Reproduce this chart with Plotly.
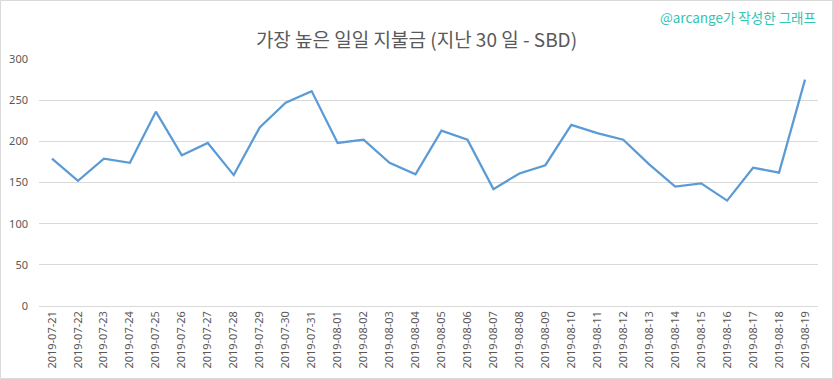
import plotly.graph_objects as go

dates = ["2019-07-21","2019-07-22","2019-07-23","2019-07-24","2019-07-25","2019-07-26",
         "2019-07-27","2019-07-28","2019-07-29","2019-07-30","2019-07-31","2019-08-01",
         "2019-08-02","2019-08-03","2019-08-04","2019-08-05","2019-08-06","2019-08-07",
         "2019-08-08","2019-08-09","2019-08-10","2019-08-11","2019-08-12","2019-08-13",
         "2019-08-14","2019-08-15","2019-08-16","2019-08-17","2019-08-18","2019-08-19"]
payout = [179, 152, 179, 174, 236, 183, 198, 159, 217, 247, 261, 198,
          202, 174, 160, 213, 202, 142, 161, 171, 220, 210, 202, 172,
          145, 149, 128, 168, 162, 275]
y_ticks = [0, 50, 100, 150, 200, 250, 300]

W, H = 833, 379
L, R, T, B = 39, 15, 59, 73
pw, ph = W - L - R, H - T - B

fig = go.Figure()
fig.add_trace(go.Scatter(x=dates, y=payout, mode="lines",
                         line=dict(color="#5b9bd5", width=2.25), hoverinfo="x+y"))

fig.update_layout(
    width=W, height=H,
    margin=dict(l=L, r=R, t=T, b=B, autoexpand=False),
    paper_bgcolor="white", plot_bgcolor="white",
    showlegend=False,
    title=dict(text="가장 높은 일일 지불금 (지난 30 일 - SBD)", x=0.5, xanchor="center",
               y=1 - 40 / H, yanchor="middle",
               font=dict(family="Noto Sans CJK KR", size=19, color="#595959")),
    xaxis=dict(type="category", tickangle=-90, showgrid=False, showline=False,
               ticks="", automargin=False, ticklabelstandoff=2,
               tickfont=dict(family="Noto Sans", size=11, color="#595959"),
               range=[-0.5, len(dates) - 0.5], fixedrange=True),
    yaxis=dict(range=[0, 300], tickvals=y_ticks, showgrid=True, gridcolor="#d9d9d9",
               gridwidth=1, zeroline=True, zerolinecolor="#d9d9d9", zerolinewidth=1,
               showline=False, ticks="", ticklabelstandoff=10, automargin=False,
               tickfont=dict(family="Noto Sans", size=11, color="#595959"), fixedrange=True),
    annotations=[dict(text="@arcange가 작성한 그래프", xref="paper", yref="paper",
                      x=(818 - L) / pw, y=(306 - 17) / ph, xanchor="right", yanchor="middle",
                      showarrow=False,
                      font=dict(family="Noto Sans CJK KR", size=13.5, color="#33c4b4"))],
    shapes=[dict(type="rect", xref="paper", yref="paper",
                 x0=(0.5 - L) / pw, x1=(W - 0.5 - L) / pw,
                 y0=(306 - (H - 0.5)) / ph, y1=(306 - 0.5) / ph,
                 line=dict(color="#d9d9d9", width=1), fillcolor="rgba(0,0,0,0)", layer="below")],
)

fig.write_html("out.html", config={"displayModeBar": False},
               post_script="document.body.style.margin='0';document.body.style.overflow='hidden';")
